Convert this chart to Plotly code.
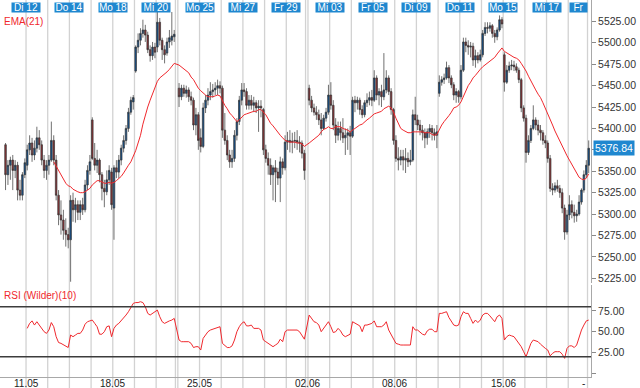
import plotly.graph_objects as go

# ---------------- data ----------------
day_names = ["Mo 11", "Di 12", "Mi 13", "Do 14", "Fr 15", "Mo 18", "Di 19", "Mi 20", "Do 21", "Fr 22",
             "Mo 25", "Di 26", "Mi 27", "Do 28", "Fr 29", "Mo 01", "Di 02", "Mi 03", "Do 04", "Fr 05",
             "Mo 08", "Di 09", "Mi 10", "Do 11", "Fr 12", "Mo 15", "Di 16", "Mi 17", "Do 18", "Fr 19"]
bars_per_day = [9, 9, 9, 9, 9, 9, 9, 8, 0, 9,
                9, 9, 9, 9, 8, 0, 9, 9, 9, 9,
                9, 9, 9, 9, 9, 9, 9, 9, 8, 1]
top_labels = ["Di 12", "Do 14", "Mo 18", "Mi 20", "Mo 25", "Mi 27", "Fr 29", "Mi 03", "Fr 05",
              "Di 09", "Do 11", "Mo 15", "Mi 17", "Fr 19"]
week_labels = ["11.05", "18.05", "25.05", "02.06", "08.06", "15.06"]
week_label_days = ["Di 12", "Mo 18", "Mo 25", "Di 02", "Mo 08", "Mo 15"]

open_ = [
    5381, 5346, 5357, 5363, 5351, 5357, 5328, 5322, 5346,
    5357, 5375, 5383, 5369, 5377, 5389, 5381, 5363, 5351,
    5357, 5363, 5386, 5363, 5322, 5299, 5293, 5281, 5276,
    5270, 5316, 5305, 5311, 5302, 5311, 5305, 5334, 5351,
    5410, 5365, 5357, 5363, 5346, 5330, 5326, 5340, 5349,
    5307, 5354, 5349, 5363, 5377, 5386, 5400, 5419, 5431,
    5467, 5495, 5503, 5511, 5515, 5509, 5492, 5485, 5495,
    5495, 5524, 5503, 5492, 5488, 5501, 5503, 5507,
    5447, 5437, 5447, 5441, 5445, 5437, 5433, 5404, 5416,
    5389, 5379, 5424, 5433, 5439, 5443, 5445, 5447, 5450,
    5447, 5398, 5386, 5369, 5361, 5365, 5392, 5408, 5433,
    5445, 5443, 5427, 5433, 5427, 5430, 5424, 5426, 5422,
    5375, 5365, 5357, 5346, 5354, 5349, 5342, 5361, 5354,
    5384, 5386, 5384, 5385, 5386, 5384, 5383, 5371,
    5447, 5433, 5424, 5419, 5416, 5410, 5400, 5412, 5419,
    5439, 5427, 5404, 5392, 5400, 5395, 5389, 5392, 5395,
    5391, 5433, 5430, 5433, 5422, 5416, 5430, 5433, 5436,
    5433, 5459, 5439, 5443, 5437, 5445, 5459, 5443, 5422,
    5386, 5365, 5363, 5367, 5363, 5365, 5361, 5363, 5416,
    5410, 5404, 5398, 5395, 5389, 5396, 5400, 5395, 5392,
    5441, 5454, 5457, 5459, 5471, 5459, 5451, 5439, 5443,
    5437, 5468, 5501, 5497, 5495, 5496, 5480, 5485, 5480,
    5486, 5511, 5518, 5517, 5520, 5511, 5507, 5515, 5527,
    5486, 5454, 5468, 5473, 5474, 5472, 5468, 5457, 5424,
    5412, 5372, 5386, 5400, 5410, 5404, 5398, 5395, 5386,
    5383, 5365, 5330, 5328, 5333, 5330, 5325, 5307, 5279,
    5299, 5311, 5302, 5298, 5300, 5314, 5328, 5346,
    5357,
]
high = [
    5383, 5363, 5367, 5369, 5363, 5361, 5340, 5349, 5365,
    5381, 5392, 5389, 5386, 5402, 5398, 5386, 5369, 5363,
    5369, 5408, 5392, 5369, 5328, 5316, 5305, 5295, 5284,
    5322, 5325, 5319, 5316, 5316, 5319, 5340, 5357, 5369,
    5413, 5383, 5375, 5365, 5349, 5340, 5351, 5357, 5354,
    5357, 5363, 5369, 5381, 5392, 5404, 5424, 5437, 5439,
    5497, 5511, 5517, 5527, 5521, 5513, 5497, 5501, 5500,
    5546, 5529, 5506, 5497, 5506, 5515, 5536, 5515,
    5453, 5451, 5451, 5450, 5448, 5443, 5436, 5424, 5419,
    5400, 5430, 5439, 5447, 5454, 5452, 5454, 5457, 5455,
    5450, 5418, 5392, 5375, 5375, 5398, 5412, 5438, 5453,
    5453, 5447, 5439, 5439, 5437, 5433, 5433, 5433, 5424,
    5381, 5372, 5365, 5357, 5363, 5354, 5367, 5365, 5392,
    5396, 5398, 5395, 5396, 5398, 5391, 5386, 5375,
    5451, 5438, 5429, 5426, 5422, 5418, 5416, 5424, 5451,
    5454, 5433, 5412, 5408, 5408, 5412, 5400, 5400, 5403,
    5437, 5438, 5437, 5436, 5427, 5433, 5441, 5443, 5445,
    5468, 5462, 5447, 5451, 5488, 5468, 5462, 5447, 5424,
    5392, 5378, 5375, 5375, 5377, 5372, 5375, 5422, 5437,
    5416, 5410, 5404, 5400, 5400, 5405, 5404, 5400, 5404,
    5462, 5461, 5464, 5478, 5474, 5462, 5454, 5447, 5445,
    5474, 5506, 5506, 5503, 5501, 5500, 5492, 5489, 5492,
    5515, 5524, 5524, 5524, 5522, 5515, 5518, 5532, 5530,
    5489, 5474, 5478, 5480, 5479, 5476, 5471, 5459, 5427,
    5416, 5392, 5404, 5427, 5413, 5410, 5404, 5398, 5392,
    5386, 5369, 5336, 5337, 5340, 5334, 5330, 5311, 5305,
    5322, 5316, 5311, 5305, 5322, 5330, 5351, 5363,
    5386,
]
low = [
    5328, 5334, 5340, 5328, 5342, 5316, 5316, 5316, 5342,
    5351, 5369, 5361, 5363, 5372, 5375, 5357, 5342, 5340,
    5346, 5361, 5357, 5316, 5287, 5276, 5270, 5262, 5260,
    5221, 5291, 5290, 5293, 5293, 5299, 5302, 5328, 5346,
    5363, 5351, 5348, 5337, 5316, 5308, 5322, 5334, 5305,
    5270, 5342, 5342, 5357, 5372, 5381, 5396, 5416, 5422,
    5465, 5488, 5497, 5506, 5501, 5488, 5478, 5480, 5482,
    5489, 5497, 5480, 5476, 5485, 5494, 5497, 5501,
    5425, 5433, 5437, 5436, 5431, 5427, 5398, 5392, 5375,
    5372, 5377, 5418, 5427, 5433, 5436, 5439, 5439, 5441,
    5389, 5381, 5363, 5354, 5354, 5361, 5386, 5404, 5427,
    5437, 5422, 5422, 5422, 5419, 5418, 5396, 5413, 5369,
    5360, 5346, 5334, 5316, 5314, 5334, 5314, 5346, 5351,
    5375, 5372, 5371, 5377, 5375, 5372, 5365, 5340,
    5427, 5419, 5415, 5410, 5404, 5392, 5398, 5408, 5416,
    5422, 5398, 5383, 5386, 5386, 5383, 5369, 5375, 5369,
    5389, 5419, 5422, 5416, 5412, 5413, 5425, 5427, 5426,
    5431, 5433, 5427, 5425, 5433, 5441, 5439, 5416, 5381,
    5361, 5351, 5357, 5351, 5348, 5355, 5357, 5361, 5404,
    5398, 5392, 5386, 5377, 5381, 5389, 5386, 5386, 5377,
    5437, 5450, 5452, 5457, 5453, 5447, 5433, 5430, 5430,
    5434, 5466, 5489, 5486, 5483, 5473, 5471, 5476, 5478,
    5483, 5508, 5511, 5513, 5506, 5500, 5503, 5513, 5517,
    5443, 5452, 5465, 5468, 5467, 5465, 5453, 5419, 5408,
    5360, 5369, 5383, 5398, 5398, 5392, 5386, 5381, 5377,
    5360, 5326, 5322, 5325, 5326, 5319, 5301, 5270, 5276,
    5293, 5295, 5290, 5291, 5298, 5311, 5325, 5342,
    5348,
]
close = [
    5346, 5357, 5363, 5351, 5357, 5328, 5322, 5346, 5360,
    5375, 5383, 5369, 5377, 5389, 5381, 5363, 5351, 5357,
    5363, 5386, 5363, 5322, 5299, 5293, 5281, 5276, 5270,
    5316, 5305, 5311, 5302, 5311, 5305, 5334, 5351, 5361,
    5365, 5357, 5363, 5346, 5330, 5326, 5340, 5351, 5311,
    5354, 5349, 5363, 5377, 5386, 5400, 5419, 5433, 5436,
    5495, 5503, 5511, 5515, 5509, 5492, 5485, 5495, 5489,
    5524, 5503, 5492, 5486, 5501, 5506, 5508, 5510,
    5437, 5447, 5441, 5445, 5437, 5433, 5404, 5416, 5386,
    5379, 5424, 5433, 5439, 5443, 5445, 5447, 5450, 5447,
    5398, 5386, 5369, 5361, 5365, 5392, 5408, 5433, 5445,
    5443, 5427, 5433, 5427, 5430, 5424, 5426, 5424, 5375,
    5365, 5357, 5346, 5354, 5349, 5342, 5361, 5354, 5384,
    5386, 5384, 5385, 5386, 5384, 5383, 5371, 5351,
    5433, 5424, 5419, 5416, 5410, 5400, 5412, 5419, 5439,
    5427, 5404, 5392, 5400, 5395, 5389, 5392, 5395, 5391,
    5433, 5430, 5433, 5422, 5416, 5430, 5433, 5436, 5433,
    5459, 5439, 5443, 5437, 5445, 5459, 5443, 5422, 5386,
    5365, 5363, 5367, 5363, 5365, 5361, 5363, 5416, 5410,
    5404, 5398, 5395, 5389, 5396, 5400, 5395, 5392, 5396,
    5454, 5457, 5459, 5471, 5459, 5451, 5439, 5443, 5437,
    5468, 5501, 5497, 5495, 5496, 5480, 5485, 5480, 5486,
    5511, 5518, 5517, 5520, 5511, 5507, 5515, 5527, 5522,
    5454, 5468, 5473, 5474, 5472, 5468, 5457, 5424, 5412,
    5372, 5386, 5400, 5410, 5404, 5398, 5395, 5386, 5383,
    5365, 5330, 5328, 5333, 5330, 5325, 5307, 5279, 5299,
    5311, 5302, 5298, 5300, 5314, 5328, 5346, 5357,
    5376.84,
]
ema21 = [None] * 20 + [
    5361, 5356, 5351, 5346, 5341, 5336, 5333, 5332, 5329, 5327,
    5326, 5325, 5325, 5326, 5328, 5330, 5334, 5336, 5339, 5339,
    5337, 5336, 5336, 5337, 5336, 5337, 5339, 5341, 5344, 5348,
    5353, 5357, 5361, 5367, 5374, 5383, 5392, 5405, 5416, 5425,
    5433, 5440, 5447, 5455, 5459, 5461, 5464, 5466, 5469, 5473,
    5476, 5474, 5472, 5469, 5467, 5465, 5460, 5457, 5452, 5447,
    5444, 5441, 5439, 5437, 5437, 5437, 5438, 5439, 5438, 5432,
    5427, 5423, 5418, 5415, 5411, 5408, 5410, 5413, 5416, 5417,
    5418, 5419, 5420, 5420, 5422, 5422, 5419, 5416, 5411, 5406,
    5403, 5399, 5396, 5392, 5389, 5386, 5385, 5384, 5384, 5384,
    5383, 5383, 5382, 5379, 5383, 5385, 5388, 5390, 5392, 5396,
    5399, 5400, 5402, 5400, 5400, 5402, 5402, 5402, 5400, 5399,
    5398, 5396, 5398, 5400, 5403, 5404, 5405, 5408, 5410, 5412,
    5415, 5417, 5418, 5419, 5420, 5423, 5425, 5426, 5424, 5419,
    5412, 5406, 5400, 5398, 5396, 5395, 5395, 5396, 5396, 5396,
    5396, 5396, 5395, 5395, 5395, 5393, 5392, 5393, 5399, 5404,
    5408, 5411, 5415, 5419, 5424, 5425, 5427, 5431, 5438, 5444,
    5450, 5454, 5459, 5462, 5466, 5469, 5472, 5474, 5476, 5479,
    5481, 5483, 5487, 5490, 5494, 5490, 5488, 5486, 5485, 5483,
    5482, 5480, 5476, 5472, 5467, 5461, 5455, 5450, 5445, 5440,
    5436, 5430, 5424, 5418, 5411, 5404, 5397, 5391, 5385, 5379,
    5372, 5368, 5363, 5358, 5354, 5349, 5343, 5341, 5340, 5342,
    5347,
]
rsi10 = [None] * 9 + [
    54, 60, 63, 58, 62, 58, 54, 50, 48, 52, 61,
    56, 44, 37, 36, 34, 33, 31, 46, 44, 46,
    48, 48, 52, 59, 62, 63, 64, 60, 56, 47,
    47, 50, 56, 57, 44, 54, 58, 60, 63, 66,
    70, 74, 79, 84, 85, 85, 86, 85, 80, 72,
    70, 72, 74, 76, 68, 62, 60, 62, 63, 64,
    66, 40, 38, 38, 38, 38, 36, 31, 32, 32,
    28, 42, 46, 50, 52, 53, 54, 55, 56, 36,
    34, 31, 31, 33, 40, 50, 56, 60, 62, 57,
    57, 58, 54, 54, 54, 52, 40, 38, 36, 35,
    32, 34, 36, 41, 38, 50, 52, 52, 52, 52,
    52, 50, 45, 41, 70, 66, 62, 61, 58, 50,
    54, 58, 62, 56, 49, 50, 54, 51, 46, 44,
    46, 47, 62, 60, 59, 57, 50, 58, 58, 59,
    60, 63, 56, 56, 56, 58, 62, 52, 46, 41,
    36, 35, 34, 34, 34, 34, 34, 56, 52, 52,
    49, 47, 46, 51, 53, 53, 50, 50, 72, 72,
    73, 74, 67, 62, 58, 57, 58, 68, 74, 72,
    72, 66, 60, 64, 61, 64, 70, 72, 72, 69,
    66, 62, 68, 70, 66, 40, 44, 46, 45, 44,
    40, 36, 32, 26, 20, 28, 36, 40, 39, 38,
    35, 32, 30, 28, 21, 24, 26, 26, 26, 23,
    18, 30, 33, 33, 31, 34, 44, 52, 58, 63,
    64,
]
price_ticks = [5225, 5250, 5275, 5300, 5325, 5350, 5375, 5400, 5425, 5450, 5475, 5500, 5525]
rsi_ticks = [0, 25, 50, 75]
rsi_bands = [20, 80]

# ---------------- positions (one slot per hourly bar) ----------------
x = []
day_start = {}
s = 0
for name, n in zip(day_names, bars_per_day):
    day_start[name] = s
    x.extend(s + i + 0.5 for i in range(n))
    s += max(n, 1)
n = len(x)
assert n == len(open_) == len(high) == len(low) == len(close) == len(ema21) == len(rsi10), \
    (n, len(open_), len(high), len(low), len(close), len(ema21), len(rsi10))

last_price = close[-1]
X_RANGE = [-1.8, 243.45]
PLOT_H = 377.0
BLUE = "#1f87cf"
RED = "#f0282d"
UP = "#14508c"
DOWN = "#8a3236"
WICK = "#333333"
GRID = "#d2d2d2"
FONT = "Liberation Sans, Arial, sans-serif"

fig = go.Figure()
fig.add_trace(go.Candlestick(
    x=x, open=open_, high=high, low=low, close=close,
    xaxis="x", yaxis="y", whiskerwidth=0,
    increasing=dict(fillcolor=UP, line=dict(color=WICK, width=0.7)),
    decreasing=dict(fillcolor=DOWN, line=dict(color=WICK, width=0.7)),
    showlegend=False, hoverinfo="skip"))
fig.add_trace(go.Scatter(x=x, y=ema21, mode="lines", line=dict(color=RED, width=1),
                         xaxis="x", yaxis="y", showlegend=False, hoverinfo="skip"))
fig.add_trace(go.Scatter(x=x, y=rsi10, mode="lines", line=dict(color=RED, width=1),
                         xaxis="x2", yaxis="y2", showlegend=False, hoverinfo="skip"))

shapes = []
for name in day_names[1:]:
    shapes.append(dict(type="line", xref="x", yref="paper", x0=day_start[name], x1=day_start[name],
                       y0=-11 / PLOT_H, y1=1, layer="below", line=dict(color=GRID, width=1.3)))
for b in rsi_bands:
    shapes.append(dict(type="line", xref="x2 domain", yref="y2", x0=0, x1=1, y0=b, y1=b,
                       line=dict(color="#3c3c3c", width=1.5)))

annotations = []
for lab in top_labels:
    xs = day_start[lab]
    last = lab == top_labels[-1]
    annotations.append(dict(
        x=xs, xref="x", y=1, yref="paper", yanchor="top", yshift=-1.5,
        xanchor="right" if last else "center",
        text=lab.split(" ")[0] if last else lab, showarrow=False,
        font=dict(family=FONT, size=10, color="white"), bgcolor=BLUE,
        width=17 if last else 28, height=9, borderpad=0))
for lab, d in zip(week_labels, week_label_days):
    annotations.append(dict(x=day_start[d], xref="x2", y=0, yref="paper", yanchor="top", yshift=1.5,
                            text=lab, showarrow=False, font=dict(family=FONT, size=10, color="#222")))
annotations.append(dict(x=day_start[day_names[-1]] - 1.5, xref="x2", y=0, yref="paper", yanchor="top",
                        yshift=1.5, text="-", showarrow=False, font=dict(family=FONT, size=10, color="#222")))
annotations.append(dict(x=0, xref="paper", y=1 - 21 / PLOT_H, yref="paper", xanchor="left",
                        yanchor="middle", xshift=2,
                        text="EMA(21)", showarrow=False, font=dict(family=FONT, size=10, color=RED)))
annotations.append(dict(x=0, xref="paper", y=1 - 295 / PLOT_H, yref="paper", xanchor="left",
                        yanchor="middle", xshift=2,
                        text="RSI (Wilder)(10)", showarrow=False, font=dict(family=FONT, size=10, color=RED)))
annotations.append(dict(x=1, xref="paper", y=last_price, yref="y", xanchor="left", xshift=1.5,
                        text=f"{last_price:.2f}", showarrow=False, bgcolor=BLUE, borderpad=1,
                        font=dict(family=FONT, size=10.5, color="white")))

# the last-price box hides the tick label it sits on, as in the original
price_ticktext = ["" if abs(v - last_price) < 8 else f"{v:.2f}" for v in price_ticks]

fig.update_layout(
    width=640, height=388, margin=dict(l=0, r=49, t=0, b=11),
    paper_bgcolor="white", plot_bgcolor="white", showlegend=False, hovermode=False,
    boxgap=0.05, font=dict(family=FONT, size=10, color="#333"),
    xaxis=dict(domain=[0, 1], range=X_RANGE, anchor="y", showticklabels=False, showgrid=False,
               zeroline=False, ticks="", rangeslider=dict(visible=False), fixedrange=True),
    yaxis=dict(domain=[1 - 283 / PLOT_H, 1], range=[5219.5, 5550], side="right", anchor="x",
               tickvals=price_ticks, ticktext=price_ticktext,
               showgrid=False, zeroline=False, showline=True, linecolor="#a8a8a8", linewidth=1,
               ticks="outside", ticklen=4, tickcolor="#8a8a8a",
               tickfont=dict(family=FONT, size=10.5, color="#333")),
    xaxis2=dict(domain=[0, 1], range=X_RANGE, anchor="y2", showticklabels=False, showgrid=False,
                zeroline=False, ticks="", showline=True, linecolor="#a8a8a8", linewidth=1,
                fixedrange=True),
    yaxis2=dict(domain=[0, 1 - 285 / PLOT_H], range=[-4.4, 106.1], side="right", anchor="x2",
                tickvals=rsi_ticks, ticktext=["" if v == 0 else f"{v:.2f}" for v in rsi_ticks],
                showgrid=False, zeroline=False, showline=True, linecolor="#a8a8a8", linewidth=1,
                ticks="outside", ticklen=4, tickcolor="#8a8a8a",
                tickfont=dict(family=FONT, size=10.5, color="#333")),
    shapes=shapes, annotations=annotations,
)

fig.write_html("out.html", config={"displayModeBar": False},
               post_script="document.body.style.margin='0px';document.body.style.overflow='hidden';")
